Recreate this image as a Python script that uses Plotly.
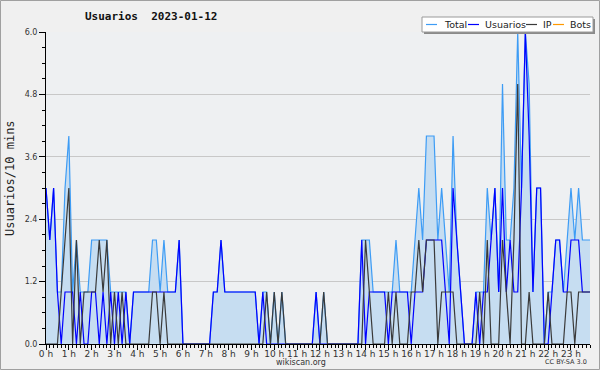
import plotly.graph_objects as go

# 10-minute slots for 2023-01-12 (144 slots)
usuarios = [3,2,3,1,0,1,1,1,0,1,0,0,1,1,0,1,0,1,0,1,0,1,0,1,
            1,1,1,1,1,1,1,1,1,1,1,2,0,0,0,0,0,0,0,0,1,1,2,1,
            1,1,1,1,1,1,1,1,0,1,0,0,0,0,0,0,0,0,0,0,0,0,0,1,
            0,0,0,0,0,0,0,0,0,0,0,2,0,1,1,1,1,1,0,1,1,1,1,1,
            0,1,1,1,2,2,2,2,2,1,0,3,2,1,0,0,0,1,0,1,1,2,3,1,
            3,1,2,1,1,3,6,4,1,3,3,0,0,1,2,2,1,1,2,2,2,1,1,1]
ip       = [0,0,0,0,1,2,3,0,2,0,1,1,1,1,2,1,2,0,1,0,1,0,0,0,
            0,0,0,0,1,1,0,1,0,0,0,0,0,0,0,0,0,0,0,0,0,0,0,0,
            0,0,0,0,0,0,0,0,0,0,1,0,1,0,1,0,0,0,0,0,0,0,0,0,
            0,1,0,0,0,0,0,0,0,0,0,0,2,1,0,0,0,0,1,0,1,0,0,0,
            1,1,2,1,2,2,2,0,1,1,1,1,0,0,0,0,0,0,1,0,2,0,0,0,
            2,1,0,2,5,0,0,1,0,0,0,0,1,0,0,0,0,1,1,0,1,1,1,1]
total    = [3,2,3,1,1,3,4,1,2,1,1,1,2,2,2,2,2,1,1,1,1,1,0,1,
            1,1,1,1,2,2,1,2,1,1,1,2,0,0,0,0,0,0,0,0,1,1,2,1,
            1,1,1,1,1,1,1,1,0,1,1,0,1,0,1,0,0,0,0,0,0,0,0,1,
            0,1,0,0,0,0,0,0,0,0,0,2,2,2,1,1,1,1,1,1,2,1,1,1,
            1,2,3,2,4,4,4,2,3,2,1,4,2,1,0,0,0,1,1,1,3,2,3,1,
            5,2,2,3,6,3,6,5,1,3,3,0,1,1,2,2,1,2,3,2,3,2,2,2]
bots     = [0] * 144
slots = list(range(144))
hour_vals = list(range(0, 144, 6))
hour_labels = [f"{h} h" for h in range(24)]
y_ticks = [0, 1.2, 2.4, 3.6, 4.8, 6.0]

W, H = 600, 370
L, R, T, B = 46, 10, 32, 26
PW, PH = W - L - R, H - T - B

def px(x):
    return (x - L) / PW

def py(y):
    return (H - B - y) / PH

fig = go.Figure()
fig.add_trace(go.Scatter(x=slots, y=bots, mode="lines", name="Bots",
                         line=dict(color="#ff9900", width=1.2), hoverinfo="skip"))
fig.add_trace(go.Scatter(x=slots, y=total, mode="lines", name="Total", fill="tozeroy",
                         fillcolor="#c6ddf1", line=dict(color="#3d9cf5", width=1.2)))
fig.add_trace(go.Scatter(x=slots, y=usuarios, mode="lines", name="Usuarios",
                         line=dict(color="#0000ff", width=1.2)))
fig.add_trace(go.Scatter(x=slots, y=ip, mode="lines", name="IP",
                         line=dict(color="#3a3a3a", width=1.2)))

font = "DejaVu Sans"
mono = "DejaVu Sans Mono"
fig.update_layout(
    width=W, height=H, autosize=False, margin=dict(l=L, r=R, t=T, b=B),
    paper_bgcolor="#f0f0f0", plot_bgcolor="#eef0f2",
    showlegend=False,
    font=dict(family=font, color="#222"),
    xaxis=dict(range=[0, 143], tickmode="array", tickvals=hour_vals, ticktext=hour_labels,
               ticks="outside", ticklen=5, tickcolor="black", showline=True, linecolor="black",
               showgrid=False, zeroline=False, tickfont=dict(size=9, color="#333"),
               ticklabelstandoff=-4,
               minor=dict(tickmode="linear", tick0=0, dtick=1, ticks="outside", ticklen=3,
                          tickcolor="black", showgrid=False)),
    yaxis=dict(range=[0, 6], tickmode="array", tickvals=y_ticks,
               ticktext=[f"{v:.1f}" for v in y_ticks],
               ticks="outside", ticklen=6, tickcolor="black", showline=True, linecolor="black",
               showgrid=True, gridcolor="#c8c8c8", gridwidth=1, zeroline=False,
               tickfont=dict(size=8, color="#333"),
               minor=dict(tickmode="linear", tick0=0, dtick=0.3, ticks="outside", ticklen=3,
                          tickcolor="black", showgrid=False)),
)

ann = []
ann.append(dict(text="<b>Usuarios  2023-01-12</b>", x=px(151), y=py(17), xref="paper", yref="paper",
                showarrow=False, xanchor="center", yanchor="middle",
                font=dict(family=mono, size=11, color="#111")))
ann.append(dict(text="Usuarios/10 mins", x=px(10), y=py(178), xref="paper", yref="paper",
                showarrow=False, textangle=-90, xanchor="center", yanchor="middle",
                font=dict(family=mono, size=12, color="#222")))
ann.append(dict(text="wikiscan.org", x=px(301), y=py(362), xref="paper", yref="paper",
                showarrow=False, xanchor="center", yanchor="middle",
                font=dict(family=font, size=8, color="#333")))
ann.append(dict(text="CC BY-SA 3.0", x=px(589), y=py(362), xref="paper", yref="paper",
                showarrow=False, xanchor="right", yanchor="middle",
                font=dict(family=font, size=6.5, color="#333")))

shapes = []
# outer frame
shapes.append(dict(type="rect", xref="paper", yref="paper", x0=px(0.5), x1=px(599.5),
                   y0=py(0.5), y1=py(369.5), line=dict(color="#a0a0a0", width=1)))
# legend box with shadow
shapes.append(dict(type="rect", xref="paper", yref="paper", x0=px(424), x1=px(595),
                   y0=py(19), y1=py(34), line=dict(width=0), fillcolor="#8a8a8a"))
shapes.append(dict(type="rect", xref="paper", yref="paper", x0=px(422), x1=px(593),
                   y0=py(17), y1=py(32), line=dict(color="#9a9a9a", width=1), fillcolor="white"))
legend_items = [("Total", "#3d9cf5", 426, 442), ("Usuarios", "#0000ff", 468, 483),
                ("IP", "#3a3a3a", 526, 541), ("Bots", "#ff9900", 553, 568)]
for name, col, lx, tx in legend_items:
    shapes.append(dict(type="line", xref="paper", yref="paper", x0=px(lx), x1=px(lx + 11),
                       y0=py(24.5), y1=py(24.5), line=dict(color=col, width=1.2)))
    ann.append(dict(text=name, x=px(tx), y=py(24.5), xref="paper", yref="paper",
                    showarrow=False, xanchor="left", yanchor="middle",
                    font=dict(family=font, size=9.5, color="#222")))

fig.update_layout(annotations=ann, shapes=shapes)
fig.write_html("out.html", config={"displayModeBar": False},
               post_script="document.body.style.margin='0';document.body.style.overflow='hidden';")
